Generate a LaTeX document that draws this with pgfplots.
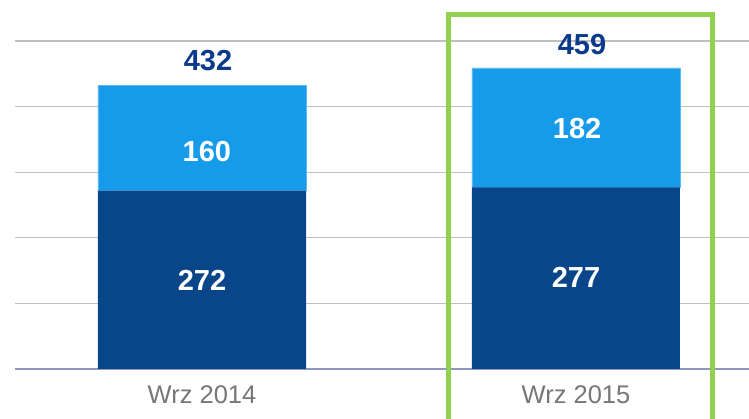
\documentclass[border=0pt]{standalone}
\usepackage{pgfplots}
\pgfplotsset{compat=1.18}
\usepackage{fontspec}
\setmainfont{Liberation Sans}
\definecolor{darkbar}{HTML}{084589}
\definecolor{lightbar}{HTML}{169BEA}
\definecolor{navy}{HTML}{0B3A8C}
\definecolor{gridgray}{HTML}{BFBFBF}
\definecolor{axisline}{HTML}{8E97C0}
\definecolor{ticklab}{HTML}{767676}
\definecolor{hlgreen}{HTML}{92D050}
\begin{document}
\begin{tikzpicture}
\begin{axis}[
  name=main,
  at={(15pt,50pt)}, anchor=south west,
  scale only axis, width=734pt, height=328pt,
  xmin=-0.5, xmax=1.4626, ymin=0, ymax=500,
  ybar stacked, bar width=208pt,
  axis x line*=bottom, axis y line*=left,
  y axis line style={draw=none},
  x axis line style={draw=axisline, line width=1.3pt, -},
  ytick={100,200,300,400,500}, yticklabels={},
  ymajorgrids, grid style={draw=gridgray, line width=1.1pt},
  major tick length=0pt,
  xtick={0,1}, xticklabels={Wrz 2014, Wrz 2015},
  xticklabel style={font=\fontsize{25.5}{28}\selectfont, text=ticklab, yshift=-13pt},
  clip=false,
]
\addplot[fill=darkbar, draw=none] coordinates {(0,272) (1,277)};
\addplot[fill=lightbar, draw=lightbar!70!white, line width=0.6pt] coordinates {(0,160) (1,182)};
\end{axis}
\begin{axis}[
  at={(15pt,50pt)}, anchor=south west,
  scale only axis, width=734pt, height=328pt,
  xmin=-0.5, xmax=1.4626, ymin=0, ymax=500,
  hide axis, clip=false,
]
\addplot[only marks, mark=*, mark size=0pt, point meta=explicit symbolic,
  nodes near coords,
  every node near coord/.append style={anchor=center, text=white, font=\fontsize{29}{30}\selectfont\bfseries}]
  coordinates {(0,135)[272] (1,139)[277] (0.013,331)[160] (1.003,367)[182]};
\addplot[only marks, mark=*, mark size=0pt, point meta=explicit symbolic,
  nodes near coords,
  every node near coord/.append style={anchor=center, text=navy, font=\fontsize{29}{30}\selectfont\bfseries}]
  coordinates {(0.016,470)[432] (1.016,494)[459]};
\draw[hlgreen, line width=5pt] (axis cs:0.6604,-120) -- (axis cs:0.6604,540.4) -- (axis cs:1.3663,540.4) -- (axis cs:1.3663,-120);
\end{axis}
\pgfresetboundingbox
\path[use as bounding box] (0,0) rectangle (749pt,419pt);
\end{tikzpicture}
\end{document}
